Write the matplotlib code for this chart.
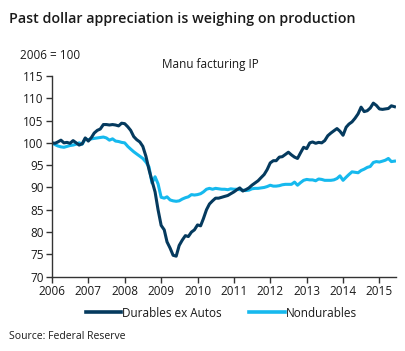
import numpy as np
import pandas as pd
import matplotlib
matplotlib.use("Agg")
import matplotlib.pyplot as plt
from matplotlib.lines import Line2D

plt.rcParams['font.family'] = ['Open Sans', 'DejaVu Sans']

dates = pd.date_range("2006-01-01", periods=114, freq="MS")
durables = [
    100.0, 99.9, 100.2, 100.6, 100.0, 100.1, 99.9, 100.5, 100.0, 99.5, 99.8, 101.1,
    100.4, 101.2, 102.2, 102.8, 103.1, 104.1, 104.1, 104.0, 104.1, 104.0, 103.8, 104.4,
    104.3, 103.6, 102.8, 101.4, 100.7, 100.2, 99.2, 97.0, 94.0, 91.5, 89.0, 85.0,
    81.5, 80.5, 77.8, 76.4, 74.8, 74.6, 77.0, 78.2, 79.2, 79.0, 80.0, 80.5,
    81.6, 81.4, 83.0, 85.0, 86.3, 87.0, 87.6, 87.6, 87.8, 88.0, 88.2, 88.6,
    89.0, 89.5, 89.9, 89.2, 89.5, 89.9, 90.5, 91.0, 91.5, 92.2, 92.9, 94.0,
    95.5, 96.0, 96.0, 96.8, 96.9, 97.4, 97.9, 97.3, 96.8, 96.5, 97.8, 99.0,
    98.7, 100.0, 100.2, 99.9, 100.1, 100.0, 100.5, 101.6, 102.2, 102.7, 103.2, 102.6,
    101.7, 103.5, 104.2, 104.7, 105.5, 106.5, 108.0, 107.0, 107.2, 107.8, 108.9, 108.4,
    107.6, 107.5, 107.6, 107.7, 108.3, 108.1,
]
nondurables = [
    100.0, 99.6, 99.3, 99.1, 99.0, 99.2, 99.4, 99.5, 99.7, 100.0, 99.7, 100.9,
    100.7, 100.9, 101.0, 101.1, 101.2, 101.3, 101.1, 100.6, 100.9, 100.4, 100.3, 100.1,
    100.0, 99.2, 98.6, 98.0, 97.5, 97.0, 96.5, 95.7, 94.6, 91.0, 92.4, 90.8,
    87.8, 87.6, 87.9, 87.2, 87.0, 86.9, 87.0, 87.4, 87.7, 87.9, 88.4, 88.3,
    88.4, 88.6, 89.0, 89.6, 89.8, 89.6, 89.8, 89.7, 89.6, 89.6, 89.5, 89.7,
    89.6, 89.6, 89.5, 89.4, 89.3, 89.4, 89.7, 89.8, 89.8, 89.9, 90.0, 90.2,
    90.5, 90.3, 90.3, 90.4, 90.6, 90.7, 90.7, 90.7, 91.2, 90.5, 91.1, 91.6,
    91.8, 91.7, 91.7, 91.5, 91.9, 91.8, 91.6, 91.6, 91.6, 91.7, 92.0, 92.6,
    91.6, 92.3, 92.9, 93.5, 93.4, 93.3, 93.8, 94.1, 94.5, 94.7, 95.6, 95.8,
    95.7, 95.9, 96.1, 96.5, 95.8, 95.9,
]
year_ticks = [str(y) for y in range(2006, 2016)]
y_ticks = [70, 75, 80, 85, 90, 95, 100, 105, 110, 115]

dark = "#053a5e"
light = "#16b9ee"
textc = "#1a1a1a"

fig = plt.figure(figsize=(4.06, 3.51), dpi=100)
ax = fig.add_axes([0.128, 0.2117, 0.847, 0.572])
ax.plot(dates, nondurables, color=light, lw=2.2, solid_joinstyle='round')
ax.plot(dates, durables, color=dark, lw=2.2, solid_joinstyle='round')

ax.set_ylim(70, 115)
ax.set_yticks(y_ticks)
xt = pd.to_datetime([f"{y}-01-01" for y in year_ticks])
ax.set_xticks(xt)
ax.set_xticklabels(year_ticks)
ax.set_xlim(pd.Timestamp("2006-01-01"), pd.Timestamp("2015-06-15"))

for s in ['top', 'right']:
    ax.spines[s].set_visible(False)
for s in ['left', 'bottom']:
    ax.spines[s].set_color("#333333")
    ax.spines[s].set_linewidth(1.0)
ax.tick_params(axis='both', direction='out', length=4, width=1.0, color="#333333",
               labelsize=8.5, labelcolor=textc, pad=2)

fig.text(0.022, 0.945, "Past dollar appreciation is weighing on production",
         fontsize=10.3, fontweight='semibold', color=textc, va='center', ha='left')
fig.text(0.05, 0.843, "2006 = 100", fontsize=8.5, color=textc, va='center', ha='left')
fig.text(0.517, 0.815, "Manu facturing IP", fontsize=8.5, color=textc, va='center', ha='center')
fig.text(0.022, 0.04, "Source: Federal Reserve", fontsize=7.5, color=textc, va='center', ha='left')

handles = [Line2D([], [], color=dark, lw=2.6), Line2D([], [], color=light, lw=2.6)]
fig.legend(handles, ["Durables ex Autos", "Nondurables"], loc='center',
           bbox_to_anchor=(0.545, 0.108), ncol=2, frameon=False, fontsize=8.5,
           handlelength=3.0, handletextpad=0.1, columnspacing=2.3,
           labelcolor=textc)

fig.savefig("out.png", dpi=100)
